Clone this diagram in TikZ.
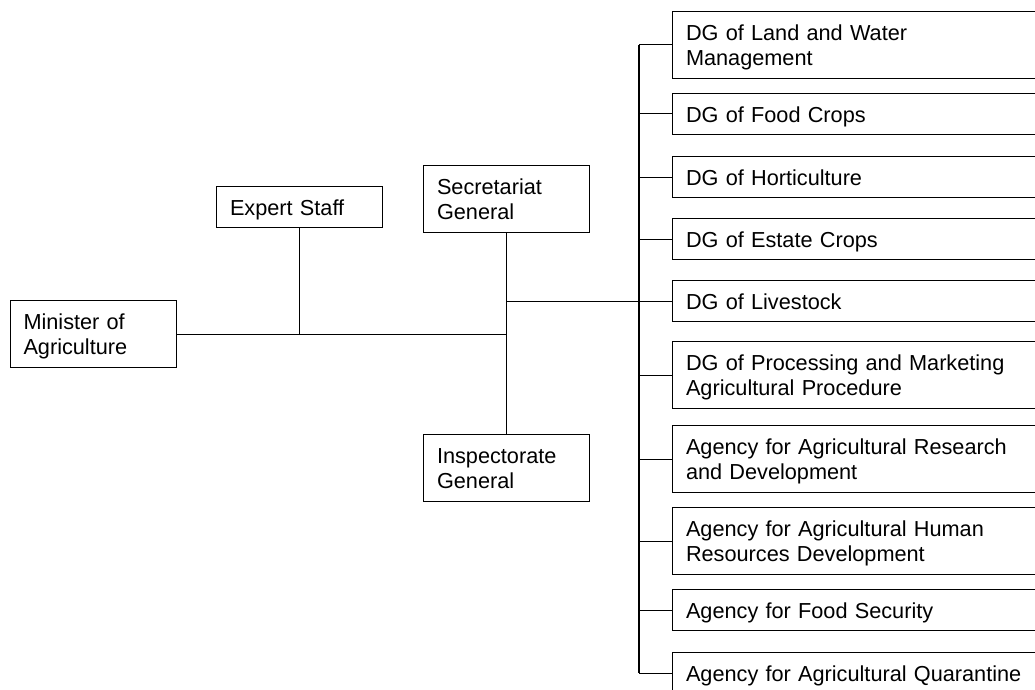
\documentclass[tikz,border=0pt]{standalone}
\usepackage{fontspec}
\setmainfont{Liberation Sans}
\begin{document}
\begin{tikzpicture}[x=1pt,y=-1pt,
  unit/.style={draw=black, line width=1pt, fill=white, anchor=north west,
    inner xsep=13.5pt, inner ysep=0pt, align=left,
    font=\fontsize{21.7}{25}\selectfont, text height=16.6pt},
  one/.style={minimum height=41pt, text depth=0pt},
  two/.style={minimum height=67pt, text depth=25pt},
  left unit/.style={unit, minimum width=166pt, text width=139pt},
  right unit/.style={unit, minimum width=380pt, text width=353pt},
  link/.style={draw=black, line width=1pt},
  bus/.style={draw=black, line width=1.3pt}]
\useasboundingbox (0,0) rectangle (1035,690);
\clip (0,0) rectangle (1035,690);

% top management
\node[left unit, two] (min) at (9.5,300) {Minister of\\Agriculture};
\node[left unit, one] (exp) at (216,186) {Expert Staff};
\node[left unit, two] (sec) at (423,165) {Secretariat\\General};
\node[left unit, two] (ins) at (423,434) {Inspectorate\\General};

% directorates general and agencies
\node[right unit, two] (dg1)  at (672,11)  {DG of Land and Water\\Management};
\node[right unit, one] (dg2)  at (672,93)  {DG of Food Crops};
\node[right unit, one] (dg3)  at (672,156) {DG of Horticulture};
\node[right unit, one] (dg4)  at (672,218) {DG of Estate Crops};
\node[right unit, one] (dg5)  at (672,280) {DG of Livestock};
\node[right unit, two] (dg6)  at (672,341) {DG of Processing and Marketing\\Agricultural Procedure};
\node[right unit, two] (dg7)  at (672,425) {Agency for Agricultural Research\\and Development};
\node[right unit, two] (dg8)  at (672,507) {Agency for Agricultural Human\\Resources Development};
\node[right unit, one] (dg9)  at (672,589) {Agency for Food Security};
\node[right unit, one] (dg10) at (672,652) {Agency for Agricultural Quarantine};

\coordinate (rbus) at (639,0);

% connectors
\draw[link] (min.east) -- (min.east -| sec.south);
\draw[link] (exp.south) -- (exp.south |- min.east);
\draw[link] (sec.south) -- (ins.north);
\draw[link] (sec.south |- dg5.west) -- (dg5.west);
\draw[bus] (rbus |- dg1.west) -- (rbus |- dg10.west);
\foreach \n in {dg1,dg2,dg3,dg4,dg6,dg7,dg8,dg9,dg10}
  \draw[link] (rbus |- \n.west) -- (\n.west);
\end{tikzpicture}
\end{document}
